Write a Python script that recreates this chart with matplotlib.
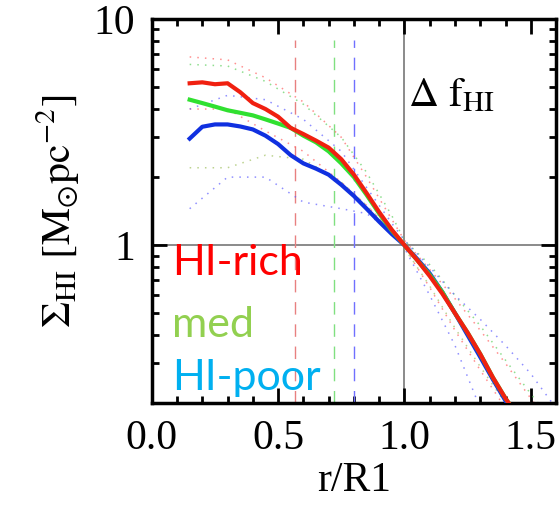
import matplotlib
matplotlib.use('Agg')
import matplotlib.pyplot as plt
from matplotlib.ticker import FixedLocator, FixedFormatter, MultipleLocator, NullFormatter

plt.rcParams['font.family'] = 'serif'
plt.rcParams['font.serif'] = ['Liberation Serif']
plt.rcParams['mathtext.fontset'] = 'stix'

# main profiles
r = [0.15, 0.2, 0.25, 0.3, 0.35, 0.4, 0.45, 0.5, 0.55, 0.6, 0.65, 0.7, 0.75, 0.8,
     0.85, 0.9, 0.95, 1.0, 1.05, 1.1, 1.15, 1.2, 1.25, 1.3, 1.35, 1.4, 1.42]
sig_rich = [5.2, 5.25, 5.15, 5.2, 4.75, 4.25, 4.0, 3.7, 3.3, 3.1, 2.9, 2.7, 2.4, 2.05,
            1.7, 1.4, 1.17, 1.0, 0.86, 0.73, 0.61, 0.5, 0.41, 0.33, 0.26, 0.21, 0.195]
sig_med = [4.4, 4.25, 4.1, 3.95, 3.85, 3.75, 3.6, 3.45, 3.3, 3.05, 2.85, 2.6, 2.3, 2.0,
           1.67, 1.38, 1.16, 1.0, 0.86, 0.74, 0.62, 0.5, 0.41, 0.33, 0.26, 0.21, 0.195]
sig_poor = [2.96, 3.34, 3.42, 3.42, 3.35, 3.25, 3.05, 2.8, 2.5, 2.3, 2.18, 2.05, 1.85, 1.65,
            1.45, 1.27, 1.12, 1.0, 0.87, 0.75, 0.62, 0.5, 0.40, 0.32, 0.255, 0.205, 0.19]

# scatter envelopes (dotted)
r_env = [0.15, 0.3, 0.45, 0.6, 0.75, 0.85, 0.95, 1.0, 1.1, 1.2, 1.3, 1.4, 1.5, 1.6]
rich_hi = [6.8, 6.6, 5.5, 4.3, 3.0, 2.0, 1.3, 1.05, 0.78, 0.58, 0.42, 0.30, 0.21, 0.15]
rich_lo = [4.0, 4.0, 3.2, 2.6, 1.9, 1.5, 1.15, 0.98, 0.65, 0.42, 0.28, 0.19, 0.13, 0.09]
med_hi = [6.3, 6.2, 5.3, 4.2, 3.0, 2.1, 1.35, 1.05, 0.82, 0.60, 0.44, 0.31, 0.22, 0.16]
med_lo = [2.2, 2.2, 2.5, 2.4, 1.9, 1.5, 1.15, 0.97, 0.66, 0.43, 0.29, 0.2, 0.14, 0.1]
poor_hi = [4.0, 4.6, 4.4, 3.6, 2.6, 1.8, 1.25, 1.05, 0.80, 0.60, 0.47, 0.36, 0.27, 0.19]
poor_lo = [1.45, 2.0, 2.0, 1.55, 1.45, 1.38, 1.15, 0.97, 0.6, 0.36, 0.19, 0.12, 0.08, 0.06]

# characteristic radii (dashed)
r_char = [0.565, 0.72, 0.80]
char_colors = ['#e88080', '#80e080', '#7070ff']

fig = plt.figure(figsize=(5.6, 5.15), dpi=100)
ax = fig.add_axes([0.271, 0.217, 0.722, 0.746])

ax.set_yscale('log')
ax.set_xlim(0, 1.6)
ax.set_ylim(0.2, 10)

ax.axhline(1.0, color='#8a8a8a', lw=1.4, zorder=1)
ax.axvline(1.0, color='#8a8a8a', lw=1.4, zorder=1)

for xc, c in zip(r_char, char_colors):
    ax.plot([xc, xc], [0.2, 8.1], color=c, lw=1.0, ls=(0, (9, 7)), zorder=2)

for y, c in [(rich_hi, '#ff6060'), (rich_lo, '#ff6060'), (med_hi, '#60d060'),
             (med_lo, '#a0c060'), (poor_hi, '#6060ff'), (poor_lo, '#6060ff')]:
    ax.plot(r_env, y, color=c, lw=1.1, ls=(0, (1, 4)), alpha=0.7, zorder=2)

ax.plot(r, sig_poor, color='#1030e0', lw=3, zorder=3)
ax.plot(r, sig_med, color='#30e030', lw=3, zorder=4)
ax.plot(r, sig_rich, color='#f02010', lw=3, zorder=5)

ax.text(1.015, 4.1, r'$\Delta\ \mathrm{f}_{\mathrm{HI}}$', fontsize=30, color='black')

for txt, yy, c in [('HI-rich', 0.333, '#ff0000'), ('med', 0.172, '#92d050'),
                   ('HI-poor', 0.034, '#00b0f0')]:
    ax.text(0.05, yy, txt, transform=ax.transAxes, fontsize=31, color=c,
            family='Lato', zorder=6)

ax.xaxis.set_major_locator(MultipleLocator(0.5))
ax.xaxis.set_minor_locator(MultipleLocator(0.1))
ax.yaxis.set_major_locator(FixedLocator([1, 10]))
ax.yaxis.set_major_formatter(FixedFormatter(['1', '10']))
ax.yaxis.set_minor_locator(FixedLocator([0.2, 0.3, 0.4, 0.5, 0.6, 0.7, 0.8, 0.9,
                                         2, 3, 4, 5, 6, 7, 8, 9]))
ax.yaxis.set_minor_formatter(NullFormatter())
ax.xaxis.set_major_formatter(matplotlib.ticker.FormatStrFormatter('%.1f'))

ax.tick_params(which='both', direction='in', top=True, right=True, width=2,
               labelsize=30, pad=12)
ax.tick_params(which='major', length=11)
ax.tick_params(which='minor', length=5)
for s in ax.spines.values():
    s.set_linewidth(2.5)

ax.set_xlabel('r/R1', fontsize=30, labelpad=2)
ax.set_ylabel(r'$\Sigma_{\mathrm{HI}}\ [\mathrm{M}_{\odot}\mathrm{pc}^{-2}]$', fontsize=30,
              labelpad=8)

fig.savefig('out.png', dpi=100)
